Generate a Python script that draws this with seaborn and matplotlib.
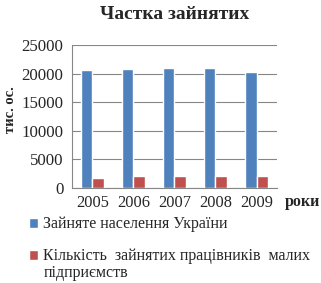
import matplotlib
matplotlib.use("Agg")
import matplotlib.pyplot as plt
import seaborn as sns
import pandas as pd

years = ["2005", "2006", "2007", "2008", "2009"]
employed_ukraine = [20680, 20730, 20905, 20972, 20192]
employed_small = [1800, 2150, 2130, 2120, 2140]
series_names = ["Зайняте населення України",
                "Кількість  зайнятих працівників  малих"]
series_name_cont = "підприємств"
title = "Частка зайнятих"
y_label = "тис. ос."
x_label = "роки"
y_ticks = [0, 5000, 10000, 15000, 20000, 25000]

df = pd.DataFrame({
    "year": years * 2,
    "value": employed_ukraine + employed_small,
    "series": [series_names[0]] * len(years) + [series_names[1]] * len(years),
})

sns.set_style("white")
plt.rcParams["font.family"] = ["Liberation Serif", "DejaVu Serif"]

fig = plt.figure(figsize=(3.21, 2.83), dpi=100)
ax = fig.add_axes([0.224, 0.336, 0.639, 0.505])

sns.barplot(data=df, x="year", y="value", hue="series",
            palette=["#4F81BD", "#C0504D"], width=0.56, ax=ax,
            saturation=1, legend=True, zorder=3)

ax.set_ylim(0, 25000)
ax.set_yticks(y_ticks)
ax.set_yticklabels([str(t) for t in y_ticks], fontsize=12.2)
ax.set_xticks(range(len(years)))
ax.set_xticklabels(years, fontsize=11.8)
ax.tick_params(axis="y", length=3, color="#868686", pad=3)
ax.tick_params(axis="x", length=0, pad=5)
ax.grid(axis="y", color="#868686", linewidth=0.8, zorder=0)
ax.set_axisbelow(True)
for s in ["top", "right"]:
    ax.spines[s].set_visible(False)
for s in ["left", "bottom"]:
    ax.spines[s].set_color("#868686")
    ax.spines[s].set_linewidth(0.8)
ax.set_xlabel("")
ax.set_ylabel(y_label, fontsize=10.5, fontweight="bold")
ax.yaxis.set_label_coords(-0.27, 0.545)
ax.set_title(title, fontsize=14, fontweight="bold", pad=19)
ax.set_xlim(-0.5, 4.5)

fig.text(0.888, 0.287, x_label, fontsize=11.5, fontweight="bold", ha="left", va="center")

handles, labels = ax.get_legend_handles_labels()
leg = ax.legend(handles, labels, loc="upper left", bbox_to_anchor=(0.09, 0.235),
                bbox_transform=fig.transFigure, frameon=False, fontsize=11.5,
                handlelength=0.55, handleheight=0.55, handletextpad=0.35,
                labelspacing=1.0, borderpad=0, borderaxespad=0)

fig.canvas.draw()
bb = leg.get_texts()[1].get_window_extent(fig.canvas.get_renderer())
fig.text(bb.x0 / fig.bbox.width, (bb.y0 - 17) / fig.bbox.height, series_name_cont,
         fontsize=11.5, ha="left", va="bottom")

fig.savefig("out.png", dpi=100)
